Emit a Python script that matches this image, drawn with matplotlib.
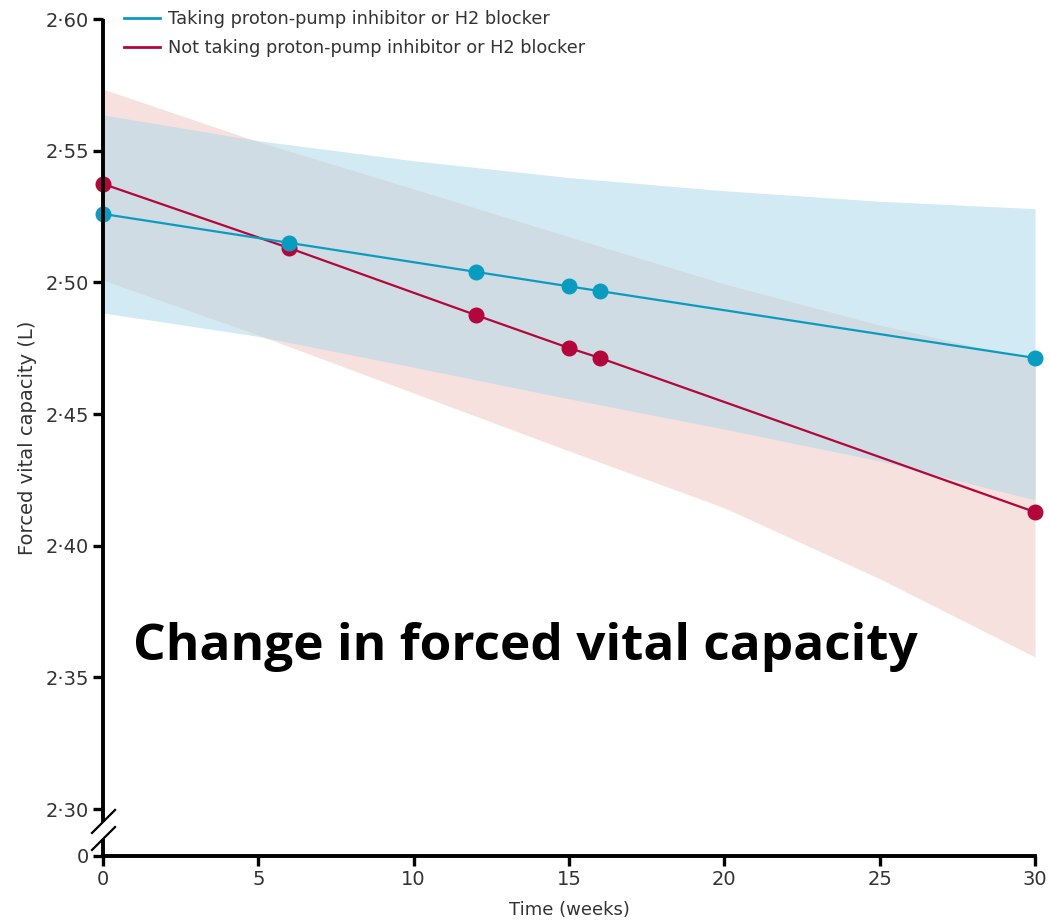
import matplotlib
matplotlib.use('Agg')
import matplotlib.pyplot as plt
import numpy as np

# model estimates of FVC (L) over time, with confidence bands
weeks_obs = [0, 6, 12, 15, 16, 30]
fvc_taking = [2.526, 2.515, 2.504, 2.4985, 2.4967, 2.4713]
fvc_not_taking = [2.5374, 2.513, 2.4876, 2.4751, 2.4713, 2.4128]

band_weeks = [0, 5, 10, 15, 20, 25, 30]
taking_upper = [2.5636, 2.5538, 2.5462, 2.5398, 2.5348, 2.5308, 2.528]
taking_lower = [2.4884, 2.4795, 2.4678, 2.4558, 2.4443, 2.4322, 2.4174]
not_taking_upper = [2.5734, 2.5534, 2.5355, 2.5173, 2.4994, 2.4838, 2.4705]
not_taking_lower = [2.5009, 2.4800, 2.4580, 2.4360, 2.4144, 2.3875, 2.3578]

ytick_vals = [2.2822, 2.30, 2.35, 2.40, 2.45, 2.50, 2.55, 2.60]
ytick_labels = ['0', '2·30', '2·35', '2·40', '2·45', '2·50', '2·55', '2·60']
xtick_vals = [0, 5, 10, 15, 20, 25, 30]

label_taking = 'Taking proton-pump inhibitor or H2 blocker'
label_not_taking = 'Not taking proton-pump inhibitor or H2 blocker'

blue = '#0a9cc0'
red = '#b3063a'
blue_fill = '#d2eaf3'
red_fill = '#f6e1df'
both_fill = '#cfdce3'
txt = '#333333'

plt.rcParams['font.family'] = ['DejaVu Sans']

fig = plt.figure(figsize=(10.5, 9.24), dpi=100)
ax = fig.add_axes([0.0981, 0.0736, 0.8876, 0.9058])

# bands on a fine grid so the overlap can be shaded separately
xs = np.linspace(0, 30, 601)
tu = np.interp(xs, band_weeks, taking_upper)
tl = np.interp(xs, band_weeks, taking_lower)
nu = np.interp(xs, band_weeks, not_taking_upper)
nl = np.interp(xs, band_weeks, not_taking_lower)
ax.fill_between(xs, tl, tu, color=blue_fill, lw=0, zorder=1)
ax.fill_between(xs, nl, nu, color=red_fill, lw=0, zorder=1)
lo = np.maximum(tl, nl)
hi = np.minimum(tu, nu)
ax.fill_between(xs, lo, hi, where=hi > lo, color=both_fill, lw=0, zorder=2)

ax.plot(weeks_obs, fvc_taking, color=blue, lw=1.6, marker='o', ms=10.5,
        label=label_taking, clip_on=False, zorder=5)
ax.plot(weeks_obs, fvc_not_taking, color=red, lw=1.6, marker='o', ms=10.5,
        label=label_not_taking, clip_on=False, zorder=4)

ax.set_xlim(0, 30)
ax.set_ylim(ytick_vals[0], 2.60)
ax.set_xticks(xtick_vals)
ax.set_yticks(ytick_vals)
ax.set_yticklabels(ytick_labels)
ax.tick_params(axis='both', length=7, width=2.4, labelsize=14, colors='black',
               labelcolor=txt, pad=3)

for s in ['top', 'right', 'left']:
    ax.spines[s].set_visible(False)
ax.spines['bottom'].set_linewidth(2.8)

# left axis drawn by hand with a break near the bottom
kw = dict(transform=ax.transAxes, color='black', lw=2.8, clip_on=False,
          solid_capstyle='butt', zorder=6)
ax.plot([0, 0], [0, 0.0203], **kw)
ax.plot([0, 0], [0.0406, 1.0], **kw)
ax.plot([-0.0118, 0.0129], [0.0275, 0.055], color='black', lw=1.6,
        transform=ax.transAxes, clip_on=False)
ax.plot([-0.0118, 0.0129], [0.0072, 0.0346], color='black', lw=1.6,
        transform=ax.transAxes, clip_on=False)

ax.set_xlabel('Time (weeks)', fontsize=13, color=txt, labelpad=9)
ax.set_ylabel('Forced vital capacity (L)', fontsize=14, color=txt, labelpad=6)

leg = ax.legend(loc='upper left', bbox_to_anchor=(0.0054, 1.03), frameon=False,
                fontsize=12.8, handlelength=2.0, handletextpad=0.45,
                labelspacing=0.62, labelcolor=txt)
for h in leg.legend_handles:
    h.set_marker('')
    h.set_linewidth(2)

ax.text(0.032, 0.234, 'Change in forced vital capacity', transform=ax.transAxes,
        fontsize=37, fontweight='bold', family=['Open Sans', 'DejaVu Sans'],
        va='baseline', ha='left', color='black', zorder=7)

fig.savefig('out.png', dpi=100)
